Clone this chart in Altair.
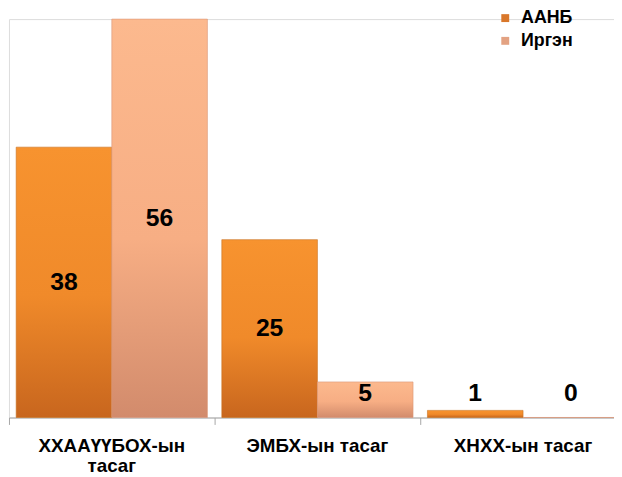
import altair as alt
import pandas as pd

categories = ["ХХААҮҮБОХ-ын тасаг", "ЭМБХ-ын тасаг", "ХНХХ-ын тасаг"]
series = ["ААНБ", "Иргэн"]
aanb = [38, 25, 1]
irgen = [56, 5, 0]

rows = []
for c, a, i in zip(categories, aanb, irgen):
    rows.append({"cat": c, "series": series[0], "value": a})
    rows.append({"cat": c, "series": series[1], "value": i})
df = pd.DataFrame(rows)

FONT = "Liberation Sans"

grad_a = alt.LinearGradient(
    gradient="linear", x1=0, y1=0, x2=0, y2=1,
    stops=[alt.GradientStop(color="#F7932F", offset=0),
           alt.GradientStop(color="#F08A2A", offset=0.55),
           alt.GradientStop(color="#C8661E", offset=1)])
grad_i = alt.LinearGradient(
    gradient="linear", x1=0, y1=0, x2=0, y2=1,
    stops=[alt.GradientStop(color="#FCB98E", offset=0),
           alt.GradientStop(color="#F7AE84", offset=0.55),
           alt.GradientStop(color="#D28B6C", offset=1)])

x_enc = alt.X("cat:N", sort=categories, title=None,
              scale=alt.Scale(paddingInner=0.07, paddingOuter=0.035, range=[0, 624]),
              axis=alt.Axis(labelAngle=0, labelFont=FONT, labelFontSize=19,
                            labelFontWeight="bold", labelColor="#000000",
                            labelExpr="length(datum.label) > 15 ? split(datum.label, ' ') : datum.label",
                            labelLineHeight=21, labelPadding=12, labelLimit=300,
                            bandPosition=-0.037, tickSize=7, tickColor="#A6A6A6",
                            domainColor="#A6A6A6", domainWidth=1.2, grid=False))
xo_enc = alt.XOffset("series:N", sort=series, scale=alt.Scale(paddingInner=0, paddingOuter=0))
y_scale = alt.Scale(domain=[0, 56], nice=False, zero=True)

base = alt.Chart(df).encode(x=x_enc, xOffset=xo_enc)

bars_a = base.transform_filter(alt.datum.series == series[0]).mark_bar(
    color=grad_a, stroke="#C9701F", strokeWidth=0.6
).encode(y=alt.Y("value:Q", scale=y_scale, axis=None))
bars_i = base.transform_filter(alt.datum.series == series[1]).mark_bar(
    color=grad_i, stroke="#D99677", strokeWidth=0.6
).encode(y=alt.Y("value:Q", scale=y_scale, axis=None))

labels = base.transform_calculate(pos="max(datum.value / 2, 3.4)").mark_text(
    font=FONT, fontSize=25, fontWeight="bold", color="#000000", baseline="middle"
).encode(y=alt.Y("pos:Q", scale=y_scale, axis=None), text="value:Q")

legend_layer = base.mark_point(shape="square", filled=True, opacity=0).encode(
    y=alt.Y("value:Q", scale=y_scale, axis=None),
    color=alt.Color("series:N", sort=series,
                    scale=alt.Scale(domain=series, range=["#D9772A", "#E3A282"]),
                    legend=alt.Legend(title=None, orient="none", legendX=493, legendY=-10,
                                      symbolType="square", symbolSize=64, symbolOpacity=1,
                                      symbolStrokeWidth=0,
                                      labelFont=FONT, labelFontSize=18, labelFontWeight="bold",
                                      labelColor="#000000", rowPadding=5, padding=0,
                                      labelOffset=7)))

chart = alt.layer(legend_layer, bars_a, bars_i, labels).properties(
    width=612, height=403,
    autosize=alt.AutoSizeParams(type="none"),
    padding={"left": 1, "top": 8.5, "right": 0, "bottom": 60},
).configure_view(stroke=None).configure(background="#FFFFFF")

chart.save("out.html", embed_options={"renderer": "svg", "actions": False})
